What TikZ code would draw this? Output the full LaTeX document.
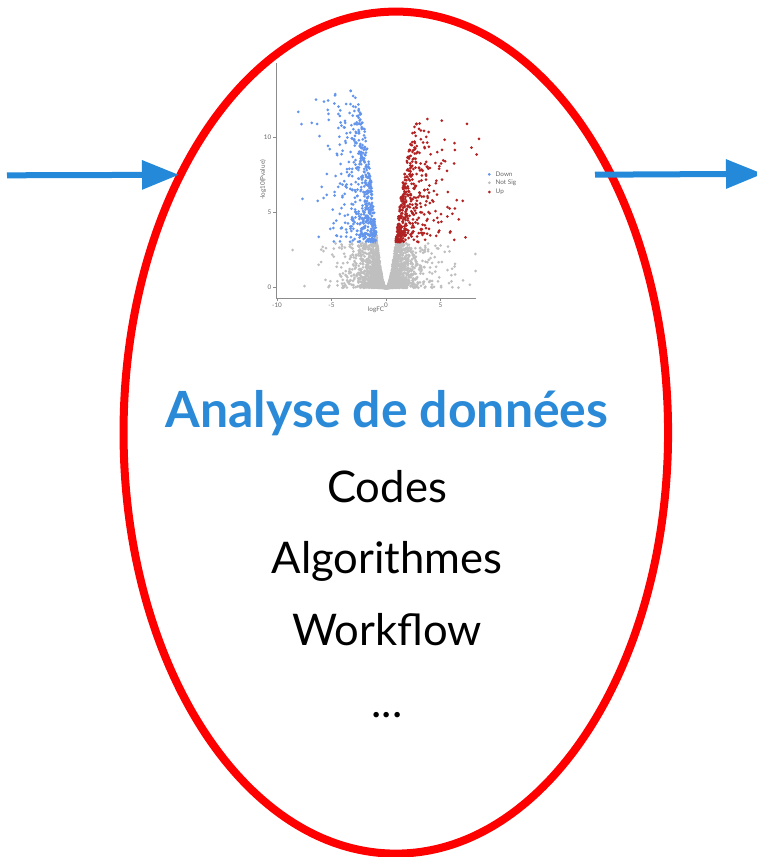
\documentclass[tikz,border=0pt]{standalone}
\usepackage{fontspec}
\setmainfont{Lato}
\usetikzlibrary{arrows.meta,shapes.geometric}
\definecolor{arrowblue}{HTML}{2389D8}
\definecolor{titleblue}{HTML}{2A8AD8}
\colorlet{vpt0}{black!25}
\definecolor{vpt1}{HTML}{6495ED}
\definecolor{vpt2}{HTML}{B22222}

\begin{document}
\begin{tikzpicture}[x=0.025cm,y=-0.025cm,
	flow/.style={arrowblue,line width=0.15cm,-{Triangle[length=0.925cm,width=0.7cm]}},
	axis/.style={black!45,line width=0.6pt},
	tick/.style={font=\fontsize{4.5}{5}\selectfont,text=black!60,inner sep=1pt},
	entry/.style={font=\fontsize{31}{33}\selectfont,anchor=base}]
	\useasboundingbox (0,0) rectangle (757,857);

	\pgfmathsetseed{11}
	\foreach \i in {1,...,4500}{
		\pgfmathsetmacro\m{-1.25*ln(0.0006+rnd)}
		\pgfmathsetmacro\sg{rnd<0.52 ? -1 : 1}
		\pgfmathsetmacro\pv{(\sg<0 ? 13.5 : 11.5)*(1-exp(-0.4*\m*\m))*rnd^1.5}
		\pgfmathtruncatemacro\cls{and(\m>0.9,\pv>3) ? (\sg<0 ? 1 : 2) : 0}
		\fill[vpt\cls] ({386+10.9*\sg*\m},{287.7-15*\pv}) circle[radius=1.5];
	}

	\draw[axis] (276,63) -- (276,298) -- (476,298);
	\foreach \v in {0,5,10}
		\draw[axis] (276,287.7-15*\v) -- (273,287.7-15*\v) node[tick,anchor=east]{\v};
	\foreach \v in {-10,-5,0,5}
		\draw[axis] (386+10.9*\v,298) -- (386+10.9*\v,301) node[tick,anchor=north]{\v};
	\node[tick,rotate=90] (Y) at (263,180) {-log10(Pvalue)};
	\node[tick] (X) at (376,310) {logFC};

	\fill[vpt1] (489.3,174.3) circle[radius=1.5];
	\fill[vpt0] (489.3,182.7) circle[radius=1.5];
	\fill[vpt2] (489.3,192) circle[radius=1.5];
	\node[tick,anchor=west] (L1) at (494,174.3) {Down};
	\node[tick,anchor=west] (L2) at (494,182.7) {Not Sig};
	\node[tick,anchor=west] (L3) at (494,192) {Up};

	\node[draw=red,line width=0.2cm,ellipse,minimum width=13.61cm,minimum height=21.045cm] (O) at (395.8,432.6) {};

	\node[anchor=base,text=titleblue,font=\fontsize{35.5}{37}\selectfont\bfseries] (A) at (387,427) {Analyse de données};
	\node[entry] (B) at (387,502) {Codes};
	\node[entry] (C) at (387,573) {Algorithmes};
	\node[entry] (D) at (387,645) {Workflow};
	\node[entry] (E) at (387,717) {...};

	\coordinate (P) at (7,175.3);
	\coordinate (Q) at (179,174.8);
	\coordinate (R) at (595,174.7);
	\coordinate (S) at (763,173.8);
	\draw[flow] (P) -- (Q);
	\draw[flow] (R) -- (S);
\end{tikzpicture}
\end{document}
